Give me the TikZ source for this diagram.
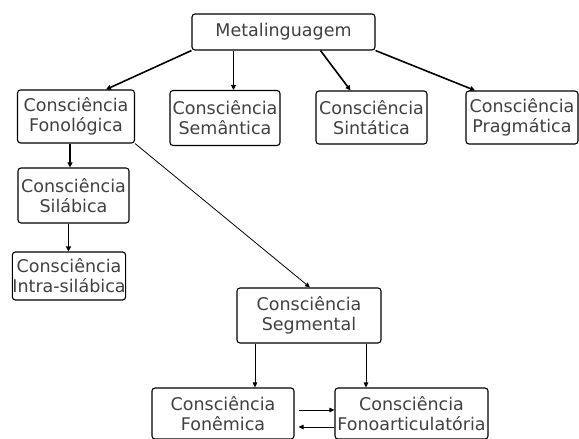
\documentclass[tikz,border=0pt]{standalone}
\usepackage{fontspec}
\setmainfont{DejaVu Sans}
\usetikzlibrary{arrows.meta}
\begin{document}
\begin{tikzpicture}[x=1pt,y=-1pt,
  box/.style={draw, rounded corners=3pt, line width=1.1pt, align=center, inner sep=0pt,
    text=black!75, font=\fontsize{17.5}{20}\selectfont},
  arr/.style={line width=1.6pt, -{Triangle[length=5pt,width=5pt]}},
  thinarr/.style={line width=0.8pt, -{Triangle[length=5pt,width=4.5pt]}}]
\useasboundingbox (0,0) rectangle (579,439);
\node[box, minimum width=183pt, minimum height=36pt] (meta) at (283.5,32){Metalinguagem};
\node[box, minimum width=117pt, minimum height=53pt] (fono) at (76,116.5){Consciência\\Fonológica};
\node[box, minimum width=110pt, minimum height=55pt] (sem) at (225,118){Consciência\\Semântica};
\node[box, minimum width=111pt, minimum height=53pt] (sint) at (371.5,117.5){Consciência\\Sintática};
\node[box, minimum width=112pt, minimum height=53pt] (prag) at (522,117.5){Consciência\\Pragmática};
\node[box, minimum width=111pt, minimum height=55pt] (sil) at (73.5,195.5){Consciência\\Silábica};
\node[box, minimum width=112pt, minimum height=48pt] (intra) at (69,276){Consciência\\Intra-silábica};
\node[box, minimum width=144pt, minimum height=55pt] (seg) at (309,315.5){Consciência\\Segmental};
\node[box, minimum width=142pt, minimum height=51pt] (fonem) at (223,413.5){Consciência\\Fonêmica};
\node[box, minimum width=153pt, minimum height=51pt] (fonoart) at (411.5,413.5){Consciência\\Fonoarticulatória};
\draw[arr](meta.south west) -- ([xshift=30pt]fono.north);
\draw[arr]([xshift=-50pt]meta.south) -- ([xshift=-50pt]meta.south |- sem.north);
\draw[arr]([xshift=37pt]meta.south) -- ([xshift=-21pt]sint.north);
\draw[arr](meta.south east) -- ([xshift=-47pt]prag.north);
\draw[arr]([xshift=-6pt]fono.south) -- ([xshift=-6pt]fono.south |- sil.north);
\draw[arr]([xshift=-5pt]sil.south) -- ([xshift=-5pt]sil.south |- intra.north);
\draw[thinarr](fono.south east) -- ([xshift=1pt]seg.north);
\draw[thinarr]([xshift=-54pt]seg.south) -- ([xshift=-54pt]seg.south |- fonem.north);
\draw[thinarr]([xshift=57pt]seg.south) -- ([xshift=57pt]seg.south |- fonoart.north);
\draw[thinarr, shorten <=4pt]([yshift=3.5pt]fonem.east) -- ([yshift=3.5pt]fonem.east -| fonoart.west);
\draw[thinarr, shorten >=4pt]([yshift=-13.5pt]fonoart.west) -- ([yshift=-13.5pt]fonoart.west -| fonem.east);
\end{tikzpicture}
\end{document}
